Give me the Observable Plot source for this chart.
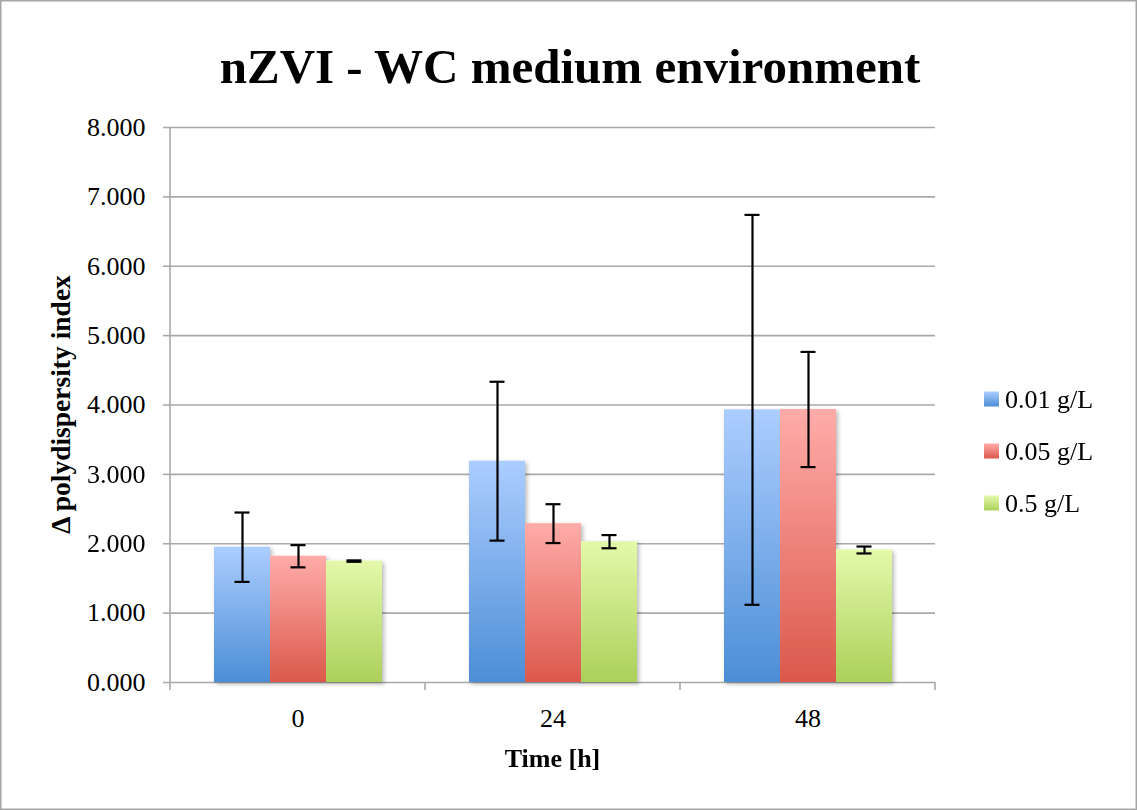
<!DOCTYPE html>
<html><head><meta charset="utf-8">
<script src="https://cdn.jsdelivr.net/npm/d3@7"></script>
<script src="https://cdn.jsdelivr.net/npm/@observablehq/plot@0.6"></script>
<style>
body{margin:0;background:#fff}
#chart{position:relative;width:1137px;height:810px}
</style>
</head><body><div id="chart"></div>
<script>
// ---- data ----
const times = ["0", "24", "48"];
const series = ["0.01 g/L", "0.05 g/L", "0.5 g/L"];
const mean001 = [1.95, 3.19, 3.93];
const err001  = [0.50, 1.145, 2.81];
const mean005 = [1.82, 2.29, 3.935];
const err005  = [0.16, 0.28, 0.83];
const mean05  = [1.75, 2.03, 1.91];
const err05   = [0.01, 0.095, 0.05];
const yTicks = [0, 1, 2, 3, 4, 5, 6, 7, 8];
const title = "nZVI - WC medium environment";
const xTitle = "Time [h]";
const yTitle = "Δ polydispersity index";
const gradStops = [["#accdff", "#4c8ed6"], ["#ffaca9", "#db584b"], ["#e3f9aa", "#acd05a"]];

const means = [mean001, mean005, mean05];
const errs = [err001, err005, err05];
const rows = series.flatMap((s, i) => times.map((t, j) => ({series: s, time: t, value: means[i][j], err: errs[i][j]})));

const serif = "'Liberation Serif', 'DejaVu Serif', serif";
const grid = "#a9a9a9";

const plot = Plot.plot({
  width: 1137, height: 810,
  marginLeft: 170, marginRight: 202, marginTop: 127, marginBottom: 128,
  style: {fontFamily: serif, background: "transparent", color: "#000", overflow: "visible"},
  fx: {domain: times, paddingInner: 0, paddingOuter: 0, label: null},
  x: {domain: series, paddingInner: 0, paddingOuter: 0.74, axis: null},
  y: {domain: [0, 8], axis: null},
  color: {domain: series, range: series.map((s, i) => `url(#grad${i})`)},
  marks: [
    Plot.ruleY(yTicks, {stroke: grid, strokeWidth: 1.6}),
    Plot.barY(rows, {fx: "time", x: "series", y: "value", fill: "series"}),
    Plot.ruleX(rows, {fx: "time", x: "series", y1: d => d.value - d.err, y2: d => d.value + d.err, stroke: "#000", strokeWidth: 2.2}),
    Plot.tickY(rows, {fx: "time", x: "series", y: d => d.value + d.err, stroke: "#000", strokeWidth: 2.2, insetLeft: 20.5, insetRight: 20.5}),
    Plot.tickY(rows, {fx: "time", x: "series", y: d => d.value - d.err, stroke: "#000", strokeWidth: 2.2, insetLeft: 20.5, insetRight: 20.5}),
    Plot.axisY(yTicks, {anchor: "left", tickFormat: d => d.toFixed(3), tickSize: 7, tickPadding: 18, fontSize: 26, stroke: grid, strokeWidth: 1.6, fill: "#000", label: null}),
    Plot.axisFx({anchor: "bottom", tickSize: 0, tickPadding: 26, fontSize: 26, fill: "#000", label: null})
  ]
});

document.getElementById("chart").appendChild(plot);
const svg = d3.select(plot);

// gradients and shadow
const defs = svg.insert("defs", ":first-child");
gradStops.forEach((st, i) => {
  const g = defs.append("linearGradient").attr("id", `grad${i}`).attr("x1", 0).attr("y1", 0).attr("x2", 0).attr("y2", 1);
  g.append("stop").attr("offset", "0%").attr("stop-color", st[0]);
  g.append("stop").attr("offset", "100%").attr("stop-color", st[1]);
});
const f = defs.append("filter").attr("id", "shadow").attr("x", "-10%").attr("y", "-10%").attr("width", "130%").attr("height", "130%");
f.append("feDropShadow").attr("dx", 2).attr("dy", 2).attr("stdDeviation", 2).attr("flood-color", "#000").attr("flood-opacity", 0.28);
svg.selectAll("g[aria-label=bar]").attr("filter", "url(#shadow)");

// axis lines from scales
const fx = plot.scale("fx"), y = plot.scale("y");
const y0 = y.apply(0), yTop = y.apply(8);
const x0 = fx.apply(times[0]);
const bounds = times.map(t => fx.apply(t)).concat([fx.apply(times[times.length - 1]) + fx.bandwidth]);
const over = svg.append("g");
over.append("line").attr("x1", x0).attr("x2", x0).attr("y1", yTop).attr("y2", y0).attr("stroke", grid).attr("stroke-width", 1.6);
bounds.forEach(b => over.append("line").attr("x1", b).attr("x2", b).attr("y1", y0).attr("y2", y0 + 8).attr("stroke", grid).attr("stroke-width", 1.6));

// titles
const xc = (bounds[0] + bounds[bounds.length - 1]) / 2;
over.append("text").attr("x", 570).attr("y", 83).attr("text-anchor", "middle")
  .attr("font-family", serif).attr("font-weight", "bold").attr("font-size", 49).text(title);
over.append("text").attr("x", xc).attr("y", 767).attr("text-anchor", "middle")
  .attr("font-family", serif).attr("font-weight", "bold").attr("font-size", 26).text(xTitle);
over.append("text").attr("transform", `translate(70,${(y0 + yTop) / 2}) rotate(-90)`).attr("text-anchor", "middle")
  .attr("font-family", serif).attr("font-weight", "bold").attr("font-size", 27.5).text(yTitle);

// legend
series.forEach((s, i) => {
  const cy = 399 + i * 52;
  over.append("rect").attr("x", 984).attr("y", cy - 7.5).attr("width", 15).attr("height", 15).attr("fill", `url(#grad${i})`);
  over.append("text").attr("x", 1005).attr("y", cy + 9).attr("text-anchor", "start")
    .attr("font-family", serif).attr("font-size", 26).text(s);
});

// outer border
over.append("rect").attr("x", 0.75).attr("y", 0.75).attr("width", 1135.5).attr("height", 808.5)
  .attr("fill", "none").attr("stroke", "#a6a6a6").attr("stroke-width", 1.5);
</script>
</body></html>
